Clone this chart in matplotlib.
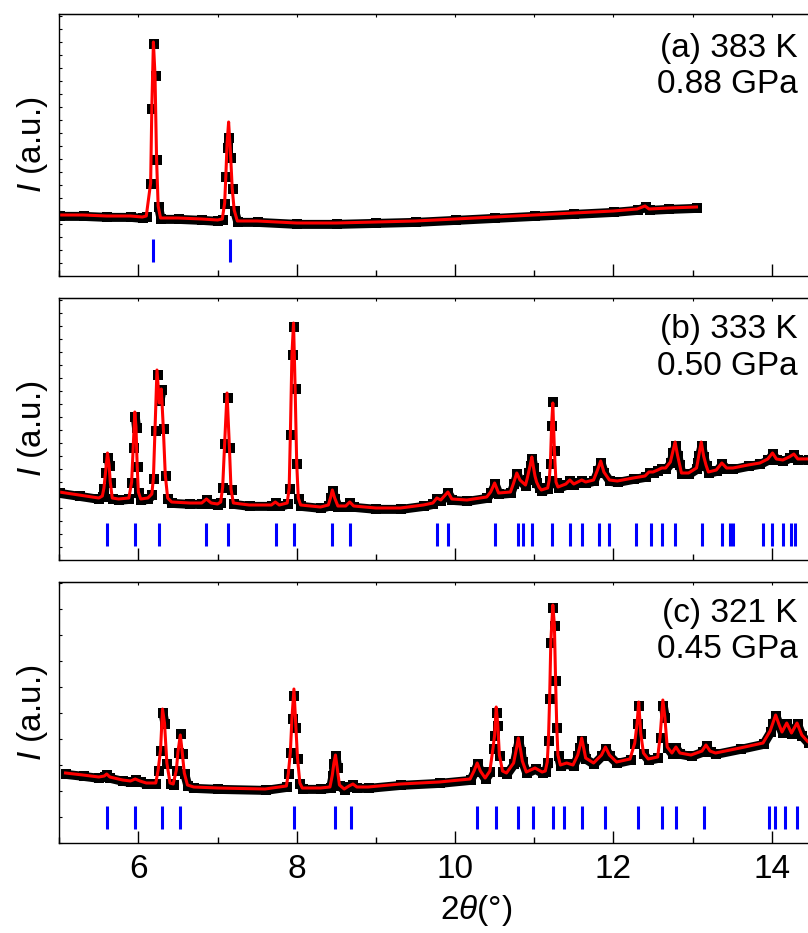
import matplotlib
matplotlib.use("Agg")
import matplotlib.pyplot as plt
import matplotlib.transforms as mtransforms
from matplotlib.ticker import MultipleLocator

plt.rcParams["font.family"] = ["Liberation Sans", "DejaVu Sans"]
plt.rcParams["mathtext.fontset"] = "custom"
plt.rcParams["mathtext.rm"] = "Liberation Sans"
plt.rcParams["mathtext.it"] = "Liberation Sans:italic"

# (a) 383 K, 0.88 GPa
tth_a = [5.00, 5.30, 5.60, 5.90, 6.05, 6.10, 6.155, 6.17, 6.19, 6.21, 6.23, 6.25, 6.28,
         6.50, 6.80, 7.00, 7.06, 7.09, 7.105, 7.12, 7.14, 7.165, 7.185, 7.21, 7.25,
         7.50, 8.00, 8.50, 9.00, 9.50, 10.00, 10.50, 11.00, 11.50, 12.00,
         12.30, 12.40, 12.45, 12.70, 13.05]
obs_a = [61, 61, 60, 60, 59, 60, 93, 168, 233, 201, 117, 70, 58,
         58, 57, 56, 57, 73, 100, 129, 139, 119, 88, 66, 55,
         55, 53, 53, 54, 55, 57, 59, 61, 63, 65,
         67, 70, 67, 68, 69]
calc_a = [61, 61, 60, 60, 59, 60, 93, 168, 234, 201, 117, 70, 58,
          58, 57, 56, 57, 73, 100, 132, 154, 121, 88, 66, 55,
          55, 53, 53, 54, 55, 57, 59, 61, 63, 65,
          67, 70, 67, 68, 69]
bragg_a = [6.19, 7.16]

# (b) 333 K, 0.50 GPa
tth_b = [5.00, 5.25, 5.50, 5.545, 5.565, 5.585, 5.61, 5.63, 5.645, 5.67, 5.75,
         5.88, 5.915, 5.935, 5.955, 5.97, 5.985, 6.00, 6.03, 6.12,
         6.17, 6.19, 6.21, 6.235, 6.265, 6.29, 6.315, 6.34, 6.37, 6.42,
         6.65, 6.80, 6.86, 6.92, 7.00, 7.04, 7.065, 7.09, 7.12, 7.15, 7.17, 7.20,
         7.40, 7.68, 7.73, 7.78, 7.88, 7.905, 7.92, 7.94, 7.96, 7.98, 8.00, 8.02, 8.05,
         8.30, 8.40, 8.43, 8.45, 8.48, 8.52, 8.62, 8.67, 8.72, 9.00, 9.31, 9.60,
         9.72, 9.77, 9.82, 9.91, 9.96, 10.15, 10.40, 10.45, 10.50, 10.55,
         10.70, 10.74, 10.78, 10.82, 10.89, 10.91, 10.93, 10.95, 10.97, 10.99, 11.01,
         11.03, 11.06, 11.09,
         11.17, 11.19, 11.205, 11.22, 11.235, 11.255, 11.275, 11.30,
         11.40, 11.45, 11.50, 11.55, 11.60, 11.65, 11.75, 11.80, 11.84, 11.88, 11.95,
         12.05, 12.25, 12.40, 12.45, 12.50, 12.56, 12.61, 12.66,
         12.72, 12.75, 12.78, 12.81, 12.835, 12.86, 12.95, 13.05, 13.065, 13.08, 13.11,
         13.14, 13.17, 13.20,
         13.30, 13.37, 13.43, 13.51, 13.70, 13.85, 13.95, 14.01, 14.06, 14.14,
         14.22, 14.28, 14.33, 14.46, 14.60]
obs_b = [68, 65, 62, 64, 72, 88, 103, 95, 78, 62, 61,
         62, 78, 113, 144, 133, 94, 68, 61, 62,
         66, 82, 130, 186, 160, 171, 132, 85, 62, 58,
         57, 57, 61, 57, 56, 58, 73, 117, 163, 113, 71, 57,
         55, 55, 58, 55, 57, 72, 126, 206, 234, 172, 97, 62, 55,
         53, 55, 63, 70, 62, 54, 54, 58, 54, 52, 52, 55,
         57, 62, 60, 68, 61, 60, 63, 68, 77, 67,
         68, 77, 87, 80, 75, 81, 88, 95, 102, 93, 84,
         78, 73, 70,
         72, 80, 97, 135, 159, 110, 78, 73,
         76, 80, 76, 78, 80, 78, 80, 90, 98, 88, 80,
         79, 82, 84, 88, 88, 90, 92, 92,
         98, 108, 115, 105, 96, 87, 87, 92, 98, 105, 115,
         104, 95, 88,
         90, 97, 92, 92, 95, 97, 101, 107, 101, 100,
         103, 106, 101, 101, 102]
calc_b = [68, 65, 62, 64, 72, 88, 107, 95, 78, 62, 61,
          62, 78, 113, 148, 133, 94, 68, 61, 62,
          66, 82, 130, 190, 157, 171, 132, 85, 62, 58,
          57, 57, 61, 57, 56, 58, 73, 117, 167, 113, 71, 57,
          55, 55, 58, 55, 57, 72, 126, 206, 237, 172, 97, 62, 55,
          53, 55, 63, 70, 62, 54, 54, 58, 54, 52, 52, 55,
          57, 62, 60, 68, 61, 60, 63, 68, 77, 67,
          68, 77, 87, 80, 75, 81, 88, 95, 103, 93, 84,
          78, 73, 70,
          72, 80, 97, 135, 157, 110, 78, 73,
          76, 80, 76, 78, 80, 78, 80, 90, 99, 88, 80,
          79, 82, 84, 88, 88, 90, 92, 92,
          98, 108, 118, 105, 96, 87, 87, 92, 98, 105, 118,
          104, 95, 88,
          90, 97, 92, 92, 95, 97, 101, 107, 101, 100,
          103, 106, 101, 101, 102]
bragg_b = [5.61, 5.96, 6.26, 6.86, 7.13, 7.74, 7.96, 8.45, 8.67, 9.77, 9.91,
           10.50, 10.80, 10.86, 10.97, 11.23, 11.45, 11.60, 11.82, 11.94, 12.29,
           12.48, 12.61, 12.78, 13.12, 13.37, 13.47, 13.51, 13.89, 14.01, 14.14,
           14.25, 14.29]

# (c) 321 K, 0.45 GPa
tth_c = [5.08, 5.30, 5.50, 5.57, 5.60, 5.64, 5.80, 5.90, 5.96, 6.02, 6.10,
         6.22, 6.25, 6.28, 6.305, 6.33, 6.36, 6.40, 6.44, 6.48, 6.50, 6.53, 6.555,
         6.58, 6.62, 6.70, 7.00, 7.60, 7.87, 7.895, 7.92, 7.94, 7.965, 7.99, 8.01,
         8.04, 8.07, 8.30, 8.42, 8.45, 8.47, 8.49, 8.51, 8.54, 8.60, 8.66, 8.71,
         8.76, 8.90, 9.31, 9.80, 10.19, 10.24, 10.28, 10.32, 10.38, 10.44, 10.48,
         10.50, 10.52, 10.54, 10.56, 10.60, 10.65, 10.74, 10.77, 10.80, 10.83, 10.85,
         10.90, 11.01, 11.10, 11.14, 11.165, 11.18, 11.195, 11.21, 11.235, 11.255,
         11.27, 11.285, 11.30, 11.33, 11.41, 11.49, 11.55, 11.575, 11.60, 11.625,
         11.65, 11.75, 11.85, 11.90, 11.95, 12.04, 12.21, 12.27, 12.30, 12.32, 12.345,
         12.38, 12.44, 12.56, 12.59, 12.625, 12.65, 12.68, 12.74, 12.79, 12.84, 12.98,
         13.12, 13.17, 13.22, 13.29, 13.60, 13.89, 13.98, 14.015, 14.05, 14.09, 14.13,
         14.19, 14.25, 14.32, 14.38, 14.46, 14.60]
obs_c = [70, 68, 66, 67, 69, 66, 63, 62, 64, 62, 60,
         60, 73, 93, 131, 120, 80, 60, 59, 73, 91, 110, 90,
         70, 58, 56, 55, 54, 57, 70, 91, 125, 148, 116, 85,
         60, 55, 55, 56, 68, 80, 88, 76, 58, 54, 57, 59,
         56, 56, 59, 61, 64, 72, 80, 72, 65, 72, 95,
         108, 131, 118, 88, 72, 70, 80, 92, 103, 92, 82,
         71, 75, 71, 72, 81, 103, 145, 201, 236, 218,
         163, 116, 88, 78, 80, 78, 88, 96, 103, 95,
         85, 80, 88, 95, 88, 81, 84, 100, 120, 138, 110,
         90, 84, 86, 106, 138, 126, 96, 90, 96, 90, 88,
         92, 98, 92, 90, 95, 100, 112, 120, 128, 119, 111,
         120, 110, 120, 108, 101, 100]
calc_c = [70, 68, 66, 67, 69, 66, 63, 62, 64, 62, 60,
          60, 73, 93, 134, 120, 80, 60, 59, 73, 91, 108, 90,
          70, 58, 56, 55, 54, 57, 70, 91, 125, 154, 116, 85,
          60, 55, 55, 56, 68, 80, 88, 76, 58, 54, 57, 59,
          56, 56, 59, 61, 64, 72, 80, 72, 65, 72, 95,
          108, 136, 118, 88, 72, 70, 80, 92, 105, 92, 82,
          71, 75, 71, 72, 81, 103, 145, 201, 238, 218,
          163, 116, 88, 78, 80, 78, 88, 96, 105, 95,
          85, 80, 88, 96, 88, 81, 84, 100, 120, 141, 110,
          90, 84, 86, 106, 143, 126, 96, 90, 96, 90, 88,
          92, 98, 92, 90, 95, 100, 112, 120, 128, 119, 111,
          120, 110, 120, 108, 101, 100]
bragg_c = [5.60, 5.96, 6.30, 6.53, 7.97, 8.48, 8.68, 10.28, 10.52, 10.80, 10.99,
           11.24, 11.38, 11.60, 11.89, 12.31, 12.62, 12.79, 13.14, 13.96, 14.04,
           14.17, 14.32]

labels = ["(a) 383 K\n0.88 GPa", "(b) 333 K\n0.50 GPa", "(c) 321 K\n0.45 GPa"]

W, H = 808, 933
fig = plt.figure(figsize=(W / 100, H / 100), dpi=100)

# panel boxes in pixels: (top, bottom)
boxes = [(14, 276), (298, 560), (582, 843)]
ytick_step = [13, 13, 26]
left_px, right_px = 59.2, 819.2


def draw_pattern(ax, tth, obs, calc, bragg):
    # observed points sit a touch below the fit, as a heavy band where the trace is flat
    shifted = mtransforms.offset_copy(ax.transData, fig=fig, x=0.4, y=-1.0, units="points")
    runs = [[0]]
    for i in range(1, len(tth)):
        if abs(obs[i] - obs[i - 1]) <= 12:
            runs[-1].append(i)
        else:
            runs.append([i])
    for r in runs:
        if len(r) > 1:
            ax.plot([tth[i] for i in r], [obs[i] for i in r], color="black", lw=6.5,
                    solid_capstyle="butt", solid_joinstyle="round", transform=shifted)
    ax.plot(tth, obs, "s", color="black", ms=6.5, mew=0, transform=shifted)
    # calculated profile
    ax.plot(tth, calc, color="red", lw=2.2)
    # Bragg positions
    ax.vlines(bragg, 14, 37, color="#0000ff", lw=2.2)


data = [(tth_a, obs_a, calc_a, bragg_a),
        (tth_b, obs_b, calc_b, bragg_b),
        (tth_c, obs_c, calc_c, bragg_c)]
label_mid = [52.5, 50, 49.5]

for k, (top, bot) in enumerate(boxes):
    ax = fig.add_axes([left_px / W, 1 - bot / H, (right_px - left_px) / W, (bot - top) / H])
    tth, obs, calc, bragg = data[k]
    draw_pattern(ax, tth, obs, calc, bragg)

    ax.set_xlim(5, 14.6)
    ax.set_ylim(0, bot - top)
    ax.xaxis.set_major_locator(MultipleLocator(2))
    ax.xaxis.set_minor_locator(MultipleLocator(1))
    ax.yaxis.set_major_locator(MultipleLocator(ytick_step[k]))
    ax.tick_params(axis="x", which="major", direction="in", length=9, width=1,
                   labelsize=24, pad=8, labelbottom=(k == 2))
    ax.tick_params(axis="x", which="minor", direction="in", length=4, width=1)
    ax.tick_params(axis="y", which="major", direction="in", length=2, width=0.8,
                   labelleft=False)
    for s in ax.spines.values():
        s.set_linewidth(1.0)

    top_ax = ax.secondary_xaxis("top")
    top_ax.xaxis.set_major_locator(MultipleLocator(1))
    top_ax.tick_params(direction="in", length=2, width=0.8, labeltop=False)

    fig.text(798 / W, 1 - (top + label_mid[k]) / H, labels[k], ha="right", va="center",
             fontsize=24, linespacing=1.23)
    fig.text(32 / W, 1 - (top + bot) / 2 / H, r"$I$ (a.u.)", rotation=90,
             ha="center", va="center", fontsize=24)

fig.text(476 / W, 1 - 910 / H, r"2$\theta$(°)", ha="center", va="center", fontsize=24)

fig.savefig("out.png", dpi=100)
